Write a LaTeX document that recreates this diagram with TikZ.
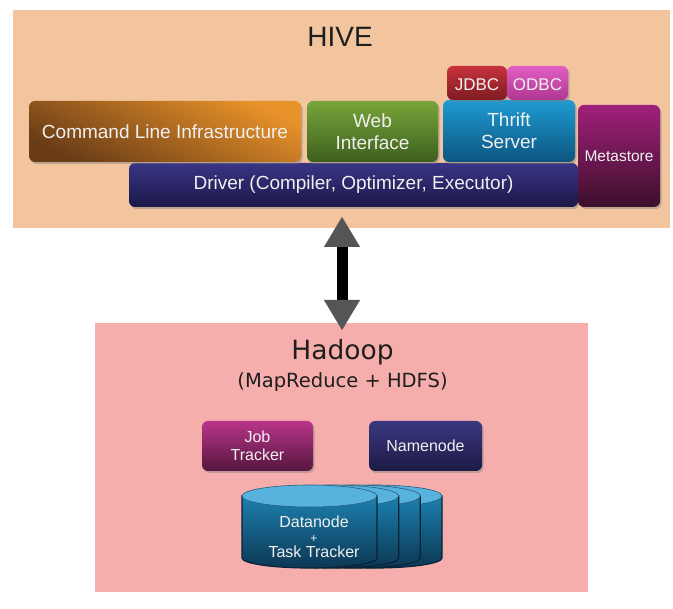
\documentclass[tikz,border=0pt]{standalone}
\usepackage{fontspec}
\setmainfont{Liberation Sans}
\newfontfamily\hdfont{DejaVu Sans}
\usetikzlibrary{arrows.meta,shadows}
\newcommand\fsz[2]{\fontsize{#1}{#2}\selectfont}
\definecolor{hiveBg}{RGB}{243,197,158}
\definecolor{hadBg}{RGB}{245,174,172}
\definecolor{titleC}{RGB}{30,30,30}
\definecolor{lblC}{RGB}{240,240,240}
\definecolor{cmdTop}{RGB}{232,146,42}
\definecolor{cmdBot}{RGB}{105,60,22}
\definecolor{webTop}{RGB}{120,165,58}
\definecolor{webBot}{RGB}{60,95,30}
\definecolor{thrTop}{RGB}{30,155,210}
\definecolor{thrBot}{RGB}{12,85,128}
\definecolor{jdTop}{RGB}{200,50,60}
\definecolor{jdBot}{RGB}{125,28,34}
\definecolor{odTop}{RGB}{225,95,195}
\definecolor{odBot}{RGB}{175,55,145}
\definecolor{metTop}{RGB}{160,32,122}
\definecolor{metBot}{RGB}{60,15,42}
\definecolor{drvTop}{RGB}{58,53,133}
\definecolor{drvBot}{RGB}{27,24,72}
\definecolor{jobTop}{RGB}{185,52,138}
\definecolor{jobBot}{RGB}{85,22,62}
\definecolor{nnTop}{RGB}{60,56,128}
\definecolor{nnBot}{RGB}{28,26,69}
\definecolor{cylTop}{RGB}{28,128,176}
\definecolor{cylBot}{RGB}{12,55,82}
\definecolor{cylLight}{RGB}{88,178,222}
\definecolor{cylEdge}{RGB}{8,35,55}
\definecolor{arrGray}{RGB}{85,85,85}
\begin{document}
\begin{tikzpicture}[x=1pt,y=-1pt,
  blk/.style={rounded corners=6pt, inner sep=0pt, align=center, text=lblC,
    drop shadow={opacity=0.45, shadow xshift=1.5pt, shadow yshift=-2pt}},
  bg/.style={inner sep=0pt, outer sep=0pt},
  ttl/.style={inner sep=0pt, text=titleC, anchor=base},
  cyl/.style={top color=cylTop, bottom color=cylBot, draw=cylEdge, line width=1.2pt},
  cyltop/.style={fill=cylLight, draw=cylEdge!60!cylLight, line width=0.6pt},
  dbl/.style={line width=11pt,
    {Triangle[length=30pt,width=36pt,line width=0.1pt,color=arrGray]}-{Triangle[length=30pt,width=36pt,line width=0.1pt,color=arrGray]}}
]
\fill[white] (0,0) rectangle (673,609);
\useasboundingbox (0,0) rectangle (673,609);

% HIVE panel
\node[bg, fill=hiveBg, minimum width=657pt, minimum height=218pt] (hive) at (341.5,119) {};
\node[ttl, font=\fsz{28}{30}] (hivet) at (340,46.5) {HIVE};

\node[blk, minimum width=449pt, minimum height=44pt, top color=drvTop, bottom color=drvBot,
  font=\fsz{19}{22}] (drv) at (353.5,185) {Driver (Compiler, Optimizer, Executor)};
\node[blk, minimum width=272pt, minimum height=61pt, top color=cmdTop, bottom color=cmdBot, shading angle=-25,
  font=\fsz{19}{22}] (cmd) at (165,131.5) {Command Line Infrastructure};
\node[blk, minimum width=131pt, minimum height=61pt, top color=webTop, bottom color=webBot,
  font=\fsz{19}{22}] (web) at (372.5,131.5) {Web\\Interface};
\node[blk, minimum width=132pt, minimum height=62pt, top color=thrTop, bottom color=thrBot,
  font=\fsz{19}{22}] (thr) at (509,131) {Thrift\\Server};
\node[blk, minimum width=60pt, minimum height=34pt, top color=jdTop, bottom color=jdBot,
  font=\fsz{17}{19}, text height=15pt, text depth=0pt] (jdbc) at (477,83) {JDBC};
\node[blk, minimum width=61pt, minimum height=34pt, top color=odTop, bottom color=odBot,
  font=\fsz{17}{19}, text height=15pt, text depth=0pt] (odbc) at (537.5,83) {ODBC};
\node[blk, minimum width=82pt, minimum height=102pt, top color=metTop, bottom color=metBot,
  font=\fsz{15.5}{18}] (meta) at (619,156) {Metastore};

% Hadoop panel
\node[bg, fill=hadBg, minimum width=493pt, minimum height=269pt] (hadoop) at (341.5,457.5) {};
\node[ttl, font=\hdfont\fsz{26.5}{28}] (hadt) at (342.5,360) {Hadoop};
\node[ttl, font=\hdfont\fsz{19.5}{22}] (hads) at (342.5,388) {(MapReduce + HDFS)};

\node[blk, minimum width=111pt, minimum height=50pt, top color=jobTop, bottom color=jobBot,
  font=\fsz{16}{18.3}] (job) at (257.5,446) {Job\\Tracker};
\node[blk, minimum width=113pt, minimum height=50pt, top color=nnTop, bottom color=nnBot,
  font=\fsz{16}{18}] (nn) at (425.5,446) {Namenode};

% Datanode stack (back to front)
\foreach \i in {3,2,1,0}{
  \pgfmathsetmacro{\xa}{242+21.67*\i}
  \pgfmathsetmacro{\xb}{377+21.67*\i}
  \pgfmathsetmacro{\xc}{309.5+21.67*\i}
  \path[cyl] (\xa,496) -- (\xa,558) arc[start angle=180,end angle=0,x radius=67.5,y radius=10] -- (\xb,496) -- cycle;
  \path[cyltop] (\xc,496) ellipse [x radius=67.5, y radius=11];
}
\node[inner sep=0pt, align=center, text=lblC, font=\fsz{16}{15}] (dn) at (314,536.5) {Datanode\\{\fsz{12}{15}+}\\Task Tracker};

% connector
\coordinate (aTop) at (342,217);
\coordinate (aBot) at (342,330);
\draw[dbl] (aTop) -- (aBot);
\end{tikzpicture}
\end{document}
